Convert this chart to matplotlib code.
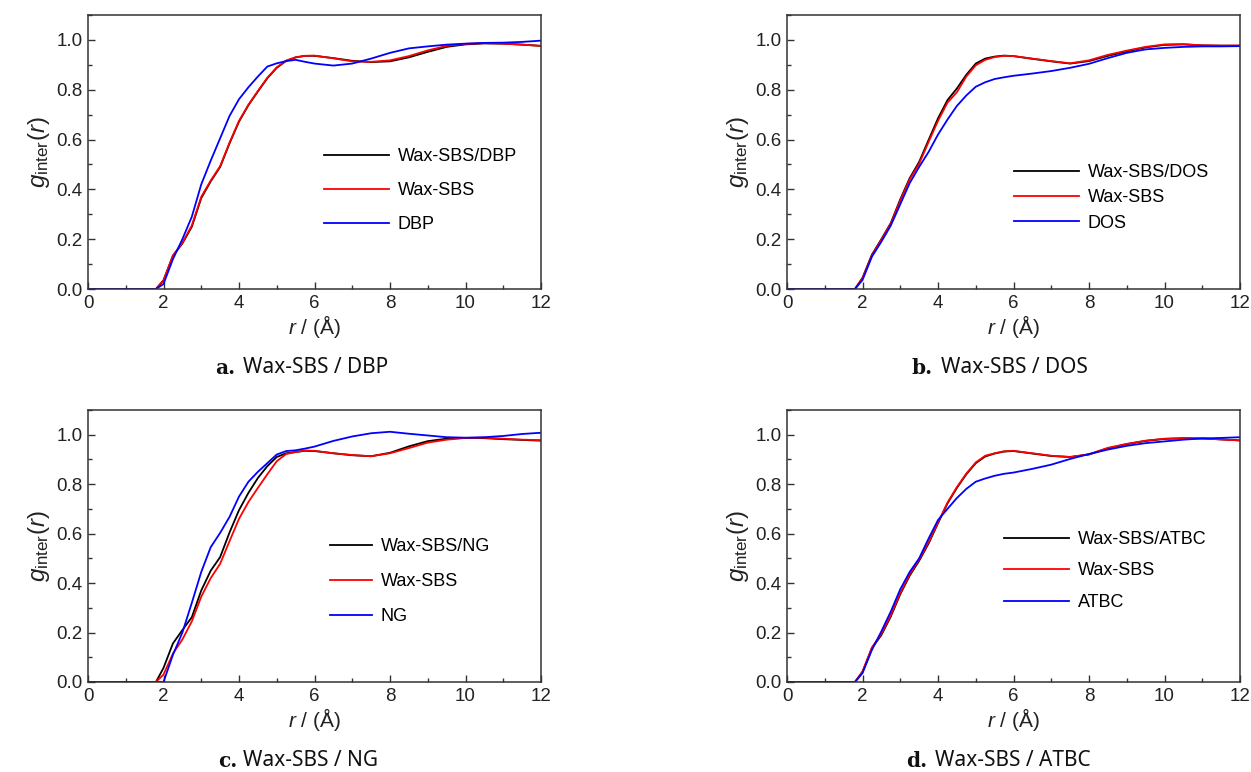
import matplotlib
matplotlib.use("Agg")
import matplotlib.pyplot as plt
from matplotlib.ticker import MultipleLocator

plt.rcParams['font.family'] = ['Liberation Sans', 'DejaVu Sans']
plt.rcParams['mathtext.fontset'] = 'custom'
plt.rcParams['mathtext.rm'] = 'Liberation Sans'
plt.rcParams['mathtext.it'] = 'Liberation Sans:italic'

# common r grid (Angstrom)
r_grid = [0, 1.8, 2.0, 2.25, 2.5, 2.75, 3.0, 3.25, 3.5, 3.75, 4.0, 4.25, 4.5, 4.75,
          5.0, 5.25, 5.5, 5.75, 6.0, 6.5, 7.0, 7.5, 8.0, 8.5, 9.0, 9.5, 10.0, 10.5,
          11.0, 11.5, 12.0]

# panel a: Wax-SBS/DBP
a_mix = [0, 0, 0.035, 0.133, 0.183, 0.25, 0.365, 0.432, 0.49, 0.585, 0.672, 0.738, 0.793, 0.846,
         0.888, 0.916, 0.93, 0.936, 0.936, 0.927, 0.916, 0.911, 0.914, 0.93, 0.952, 0.972, 0.982,
         0.986, 0.985, 0.981, 0.976]
a_wax = [0, 0, 0.035, 0.135, 0.185, 0.255, 0.37, 0.435, 0.493, 0.588, 0.675, 0.74, 0.795, 0.848,
         0.89, 0.917, 0.93, 0.936, 0.937, 0.926, 0.914, 0.912, 0.918, 0.935, 0.958, 0.976, 0.984,
         0.987, 0.985, 0.981, 0.976]
a_plas = [0, 0, 0.02, 0.12, 0.2, 0.29, 0.42, 0.515, 0.605, 0.695, 0.762, 0.81, 0.853, 0.893,
          0.906, 0.915, 0.92, 0.912, 0.905, 0.897, 0.905, 0.925, 0.948, 0.966, 0.974, 0.981, 0.985,
          0.988, 0.989, 0.992, 0.997]

# panel b: Wax-SBS/DOS
b_mix = [0, 0, 0.045, 0.138, 0.2, 0.265, 0.36, 0.445, 0.51, 0.598, 0.685, 0.758, 0.805, 0.86,
         0.905, 0.925, 0.933, 0.937, 0.935, 0.924, 0.914, 0.905, 0.915, 0.936, 0.954, 0.97, 0.98,
         0.982, 0.978, 0.977, 0.977]
b_wax = [0, 0, 0.043, 0.135, 0.198, 0.262, 0.355, 0.44, 0.503, 0.59, 0.675, 0.748, 0.79, 0.853,
         0.898, 0.92, 0.931, 0.936, 0.935, 0.925, 0.915, 0.906, 0.918, 0.94, 0.957, 0.972, 0.982,
         0.983, 0.978, 0.977, 0.977]
b_plas = [0, 0, 0.036, 0.13, 0.19, 0.255, 0.34, 0.425, 0.49, 0.55, 0.62, 0.68, 0.735, 0.777,
          0.812, 0.83, 0.843, 0.85, 0.856, 0.865, 0.875, 0.888, 0.904, 0.927, 0.948, 0.962, 0.968,
          0.972, 0.974, 0.974, 0.975]

# panel c: Wax-SBS/NG
c_mix = [0, 0, 0.057, 0.156, 0.21, 0.262, 0.37, 0.45, 0.505, 0.605, 0.695, 0.765, 0.825, 0.873,
         0.91, 0.925, 0.93, 0.935, 0.934, 0.925, 0.917, 0.913, 0.927, 0.953, 0.974, 0.984, 0.987,
         0.986, 0.982, 0.979, 0.976]
c_wax = [0, 0, 0.03, 0.115, 0.172, 0.245, 0.345, 0.42, 0.478, 0.57, 0.66, 0.728, 0.785, 0.84,
         0.893, 0.922, 0.93, 0.936, 0.935, 0.925, 0.918, 0.913, 0.925, 0.946, 0.968, 0.98, 0.987,
         0.988, 0.984, 0.98, 0.978]
c_plas = [0, 0, 0.0, 0.11, 0.2, 0.32, 0.445, 0.545, 0.603, 0.668, 0.75, 0.81, 0.85, 0.885,
          0.92, 0.934, 0.937, 0.944, 0.952, 0.975, 0.993, 1.006, 1.012, 1.004, 0.997, 0.99, 0.988,
          0.99, 0.995, 1.003, 1.008]

# panel d: Wax-SBS/ATBC
d_mix = [0, 0, 0.04, 0.137, 0.19, 0.265, 0.355, 0.43, 0.49, 0.56, 0.642, 0.722, 0.785, 0.84,
         0.885, 0.912, 0.924, 0.932, 0.934, 0.924, 0.914, 0.91, 0.92, 0.945, 0.962, 0.975, 0.983,
         0.986, 0.985, 0.981, 0.977]
d_wax = [0, 0, 0.043, 0.14, 0.195, 0.27, 0.36, 0.435, 0.495, 0.565, 0.645, 0.725, 0.788, 0.843,
         0.888, 0.915, 0.925, 0.933, 0.935, 0.925, 0.915, 0.91, 0.921, 0.947, 0.963, 0.976, 0.984,
         0.986, 0.985, 0.981, 0.977]
d_plas = [0, 0, 0.036, 0.13, 0.205, 0.285, 0.375, 0.445, 0.5, 0.58, 0.655, 0.7, 0.744, 0.781,
          0.81, 0.823, 0.834, 0.842, 0.847, 0.862, 0.879, 0.902, 0.922, 0.94, 0.955, 0.966, 0.973,
          0.98, 0.985, 0.987, 0.99]

panel_letters = ['a.', 'b.', 'c.', 'd.']
mix_labels = ['Wax-SBS/DBP', 'Wax-SBS/DOS', 'Wax-SBS/NG', 'Wax-SBS/ATBC']
plas_labels = ['DBP', 'DOS', 'NG', 'ATBC']
caption_texts = ['Wax-SBS / DBP', 'Wax-SBS / DOS', 'Wax-SBS / NG', 'Wax-SBS / ATBC']
series = [(a_mix, a_wax, a_plas), (b_mix, b_wax, b_plas),
          (c_mix, c_wax, c_plas), (d_mix, d_wax, d_plas)]

W, H = 1251, 772
fig = plt.figure(figsize=(W / 100, H / 100), dpi=100)

# axes boxes in pixels: left, top, right, bottom
boxes = [(88, 15, 541, 289), (787, 15, 1240, 289), (88, 410, 541, 682), (787, 410, 1240, 682)]
# legend: anchor (axes fraction), handlelength, labelspacing
leg_cfg = [((0.52, 0.515), 3.6, 0.95), ((0.50, 0.455), 3.6, 0.45),
           ((0.535, 0.53), 2.3, 1.0), ((0.48, 0.555), 3.55, 0.8)]
cap_pos = [(215, 243, 368), (912, 941, 368), (218, 243, 761), (906, 935, 761)]

for i, (l, t, rgt, b) in enumerate(boxes):
    ax = fig.add_axes([l / W, 1 - b / H, (rgt - l) / W, (b - t) / H])
    mix, wax, plas = series[i]
    ax.plot(r_grid, mix, color='black', lw=1.3, label=mix_labels[i])
    ax.plot(r_grid, wax, color='#ff0000', lw=1.3, label='Wax-SBS')
    ax.plot(r_grid, plas, color='#0000ff', lw=1.3, label=plas_labels[i])
    ax.set_xlim(0, 12)
    ax.set_ylim(0, 1.1)
    ax.xaxis.set_major_locator(MultipleLocator(2))
    ax.xaxis.set_minor_locator(MultipleLocator(1))
    ax.yaxis.set_minor_locator(MultipleLocator(0.1))
    ax.set_yticks([0, 0.2, 0.4, 0.6, 0.8, 1.0])
    ax.set_yticklabels(['0.0', '0.2', '0.4', '0.6', '0.8', '1.0'])
    ax.tick_params(which='both', direction='in', top=False, right=False, labelsize=13.5,
                   color='#333333', labelcolor='#222222')
    ax.tick_params(which='major', length=5, width=1, pad=4)
    ax.tick_params(which='minor', length=3, width=1)
    for s in ax.spines.values():
        s.set_linewidth(1.1)
        s.set_color('#333333')
    ax.set_xlabel(r'$r$ / (Å)', fontsize=15, color='#222222', labelpad=1)
    ax.set_ylabel(r'$g_{\mathrm{inter}}(r)$', fontsize=17.5, color='#222222', labelpad=3)
    anchor, hl, ls = leg_cfg[i]
    ax.legend(loc='upper left', bbox_to_anchor=anchor, frameon=False, fontsize=13,
              handlelength=hl, handletextpad=0.5, labelspacing=ls, borderpad=0,
              borderaxespad=0)
    x1, x2, y = cap_pos[i]
    fig.text(x1 / W, 1 - y / H, panel_letters[i], fontsize=14.5, fontweight='bold',
             family='DejaVu Serif', ha='left', va='center', color='#111111')
    fig.text(x2 / W, 1 - y / H, caption_texts[i], fontsize=15, family='Noto Sans',
             ha='left', va='center', color='#111111')

fig.savefig('out.png', dpi=100)
